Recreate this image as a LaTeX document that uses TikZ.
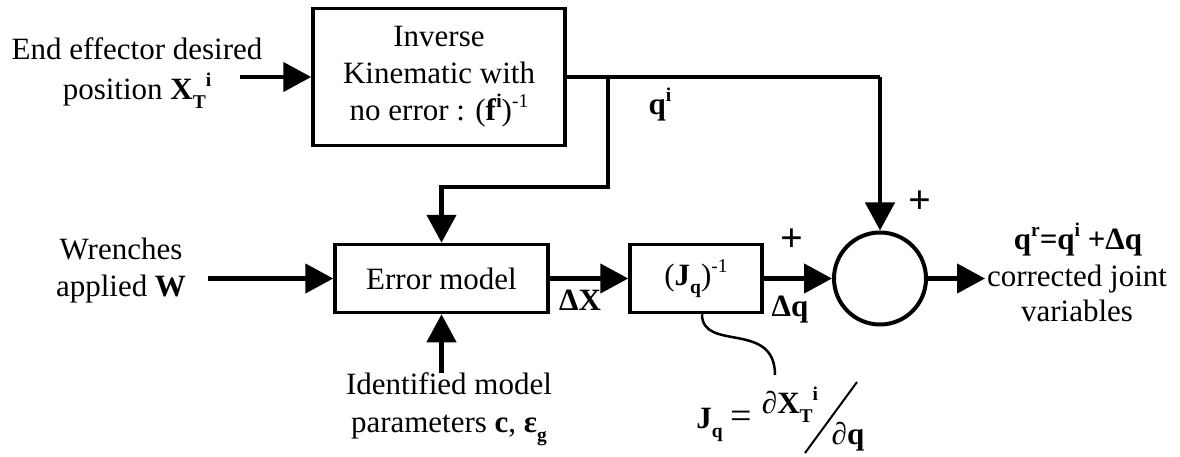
\documentclass[tikz,border=0pt]{standalone}
\usepackage{fontspec}
\setmainfont{Liberation Serif}
\usetikzlibrary{arrows.meta}
\newcommand{\mysub}[1]{\raisebox{-0.28em}{\fontsize{19.5}{19.5}\selectfont #1}}
\newcommand{\mysup}[1]{\raisebox{0.42em}{\fontsize{19.5}{19.5}\selectfont #1}}
\begin{document}
\begin{tikzpicture}[x=1pt,y=-1pt, font=\fontsize{31}{37}\selectfont,
 blk/.style={draw, line width=3.5pt, inner sep=0pt, align=center},
 sig/.style={line width=4.5pt, -{Triangle[length=28pt,width=29pt]}},
 wire/.style={line width=4.5pt},
 lbl/.style={inner sep=0pt, align=center},
 plus/.style={inner sep=0pt, font=\fontsize{40}{40}\selectfont\bfseries},
 link/.style={line width=2.5pt}]
\useasboundingbox (0,0) rectangle (1180,457);

% blocks
\node[blk, minimum width=252pt, minimum height=137pt] (inv) at (439,77) {Inverse\\Kinematic with\\no error : (\textbf{f}\mysup{\textbf{i}})\mysup{-1}};
\node[blk, minimum width=213pt, minimum height=68pt] (err) at (441.5,278.5) {Error model};
\node[blk, minimum width=132pt, minimum height=68pt] (jq) at (696,278.5) {(\textbf{J}\mysub{\textbf{q}})\mysup{-1}};
\node[draw, circle, line width=4pt, minimum size=92pt, inner sep=0pt] (sum) at (880,278.5) {};

% labels
\node[lbl, font=\fontsize{31}{40}\selectfont] (eed) at (137,73) {End effector desired\\position \textbf{X}\mysub{\textbf{T}}\mysup{\textbf{i}}};
\node[lbl] (wr) at (121,271) {Wrenches\\applied \textbf{W}};
\node[lbl, font=\fontsize{31}{38}\selectfont] (idp) at (449,409) {Identified model\\parameters \textbf{c}, \textbf{ε}\mysub{\textbf{g}}};
\node[lbl] (qi) at (660,105) {\textbf{q}\mysup{\textbf{i}}};
\node[lbl] (dx) at (580,300) {\textbf{ΔX}};
\node[plus] (p1) at (792,240) {+};
\node[lbl] (dq) at (790,310) {\textbf{Δq}};
\node[plus] (p2) at (920,202) {+};
\node[lbl] (res) at (1078,240) {\textbf{q\mysup{r}=q\mysup{i} +Δq}};
\node[lbl, font=\fontsize{31}{35}\selectfont] (res2) at (1077,293) {corrected joint\\variables};
\node[lbl, anchor=east] (jqf) at (752,425) {\textbf{J}\mysub{\textbf{q}} {\fontsize{38}{38}\selectfont =}};
\node[lbl] (num) at (790,405) {∂\textbf{X}\mysub{\textbf{T}}\mysup{\textbf{i}}};
\node[lbl] (den) at (848,437) {∂\textbf{q}};

% coordinates
\coordinate (eedS) at (240,77);
\coordinate (br) at (608,77);
\coordinate (tr) at (880,77);
\coordinate (low) at (608,187);
\coordinate (wrS) at (208,278.5);
\coordinate (idS) at (441.5,373);
\coordinate (outE) at (985,278.5);
\coordinate (cend) at (775,375);
\coordinate (s1) at (805,453);
\coordinate (s2) at (857,382);

% connectors
\draw[sig] (eedS) -- (inv.west);
\draw[wire] (inv.east) -- (tr);
\draw[sig] (tr) -- (sum.north);
\draw[sig] (br) -- (low) -- (low -| err.north) -- (err.north);
\draw[sig] (wrS) -- (err.west);
\draw[sig] (idS) -- (err.south);
\draw[sig] (err.east) -- (jq.west);
\draw[sig] (jq.east) -- (sum.west);
\draw[sig] (sum.east) -- (outE);
\draw[link] ([xshift=6pt]jq.south) .. controls +(0,38) and +(0,-55) .. (cend);
\draw[line width=2pt] (s1) -- (s2);
\end{tikzpicture}
\end{document}
